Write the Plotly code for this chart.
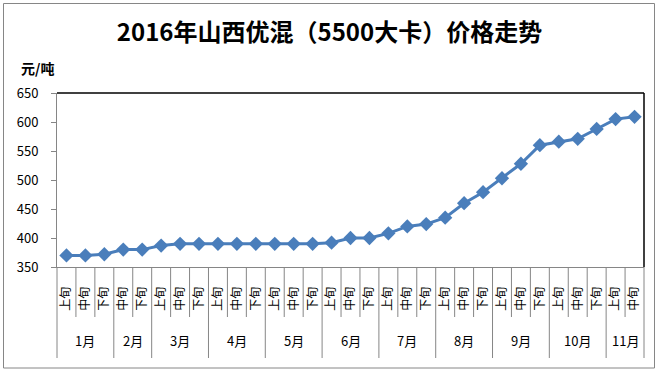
import plotly.graph_objects as go

months = ["1月", "2月", "3月", "4月", "5月", "6月", "7月", "8月", "9月", "10月", "11月"]
periods = [
    ["上旬", "中旬", "下旬"],
    ["中旬", "下旬"],
    ["上旬", "中旬", "下旬"],
    ["上旬", "中旬", "下旬"],
    ["上旬", "中旬", "下旬"],
    ["上旬", "中旬", "下旬"],
    ["上旬", "中旬", "下旬"],
    ["上旬", "中旬", "下旬"],
    ["上旬", "中旬", "下旬"],
    ["上旬", "中旬", "下旬"],
    ["上旬", "中旬"],
]
prices = [370, 370, 372, 380, 380, 387, 390, 390, 390, 390, 390, 390, 390, 390,
          392, 400, 400, 408, 420, 424, 435, 460, 479, 503, 528, 560, 566, 571,
          588, 605, 609]
y_ticks = [350, 400, 450, 500, 550, 600, 650]

title = "2016年山西优混（5500大卡）价格走势"
unit = "元/吨"

labels = [p for grp in periods for p in grp]
N = len(labels)
xs = list(range(N))

FONT = "Noto Sans CJK SC, Noto Sans, sans-serif"
GRAY = "#868686"
BLUE = "#4A7EBB"

fig = go.Figure()
fig.add_trace(go.Scatter(
    x=xs, y=prices, mode="lines+markers",
    line=dict(color=BLUE, width=3),
    marker=dict(symbol="diamond", size=11, color=BLUE),
    cliponaxis=False, showlegend=False, hoverinfo="skip",
))

# plot area pixel geometry
L, R, T, B = 57, 15, 93, 106
W, H = 659, 373
pw = W - L - R
ph = H - T - B

def py(p):  # pixel y -> paper y
    return (H - B - p) / ph

def px(p):
    return (p - L) / pw

shapes = []
annotations = []
# boundaries
month_bounds = [0]
for grp in periods:
    month_bounds.append(month_bounds[-1] + len(grp))
for k in range(N + 1):
    xk = k / N
    y_end = py(358) if k in month_bounds else py(317)
    shapes.append(dict(type="line", xref="paper", yref="paper", x0=xk, x1=xk,
                       y0=0, y1=y_end, line=dict(color=GRAY, width=1)))
# month labels
for m, a, b in zip(months, month_bounds[:-1], month_bounds[1:]):
    annotations.append(dict(xref="paper", yref="paper", x=(a + b) / 2 / N, y=py(340),
                            text=m, showarrow=False, xanchor="center", yanchor="middle",
                            font=dict(family=FONT, size=13, color="#000000")))
# plot frame top & right in black
shapes.append(dict(type="line", xref="paper", yref="paper", x0=0, x1=1, y0=1, y1=1,
                   line=dict(color="#000000", width=1.5)))
shapes.append(dict(type="line", xref="paper", yref="paper", x0=1, x1=1, y0=0, y1=1,
                   line=dict(color="#000000", width=1.5)))
# outer chart border
shapes.append(dict(type="rect", xref="paper", yref="paper", x0=px(3.5), x1=px(654.5),
                   y0=py(368), y1=py(3.5), line=dict(color=GRAY, width=1)))

annotations.append(dict(xref="paper", yref="paper", x=px(37), y=py(68), text="<b>" + unit + "</b>",
                        showarrow=False, xanchor="center", yanchor="middle",
                        font=dict(family=FONT, size=14, color="#000000")))

fig.update_layout(
    width=W, height=H,
    margin=dict(l=L, r=R, t=T, b=B),
    paper_bgcolor="white", plot_bgcolor="white",
    title=dict(text="<b>" + title + "</b>", x=0.5, xanchor="center", xref="container",
               y=1 - 33 / H, yref="container", yanchor="middle",
               font=dict(family=FONT, size=24, color="#000000")),
    xaxis=dict(range=[-0.5, N - 0.5], tickvals=xs, ticktext=labels, tickangle=-90,
               showgrid=False, zeroline=False, showline=True, linecolor=GRAY, linewidth=1,
               ticks="", ticklabelstandoff=14,
               tickfont=dict(family=FONT, size=12, color="#000000")),
    yaxis=dict(range=[350, 650], tickvals=y_ticks, showgrid=False, zeroline=False,
               showline=True, linecolor=GRAY, linewidth=1,
               ticks="outside", ticklen=5, tickcolor=GRAY, ticklabelstandoff=10,
               tickfont=dict(family=FONT, size=13, color="#000000")),
    shapes=shapes, annotations=annotations,
)

fig.write_html("out.html", config={"displayModeBar": False},
               post_script="document.body.style.margin='0px';document.body.style.overflow='hidden';")
